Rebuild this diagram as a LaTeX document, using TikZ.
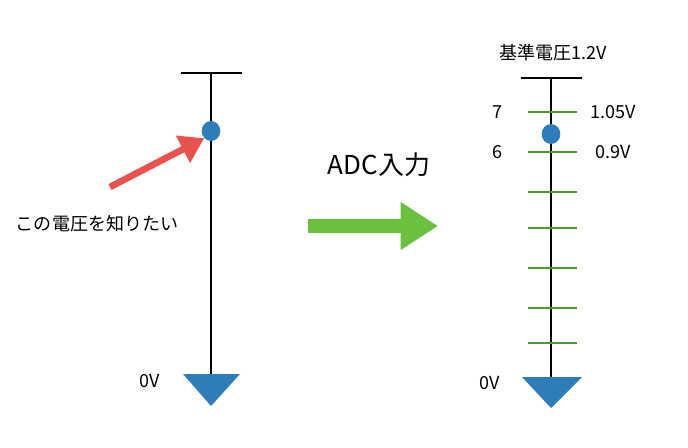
\documentclass[tikz,border=0pt]{standalone}
\usepackage{fontspec}
\setmainfont{Noto Sans CJK JP}
\usetikzlibrary{arrows.meta,shapes.geometric}
\definecolor{dotblue}{HTML}{2F7DB8}
\definecolor{tickgreen}{HTML}{4E9A2A}
\definecolor{redarr}{HTML}{E8524F}
\definecolor{grnarr}{HTML}{6CC040}
\tikzset{
  wire/.style={line width=1.5pt,black},
  tick/.style={line width=2pt,tickgreen},
  dot/.style={ellipse,fill=dotblue,minimum width=14pt,minimum height=15pt,inner sep=0pt,draw=none},
  lbl/.style={font=\fontsize{13.5pt}{15pt}\selectfont,inner sep=0pt},
  gnd/.style={fill=dotblue,draw=none}
}
\begin{document}
\begin{tikzpicture}[x=0.75pt,y=-0.75pt]
\useasboundingbox (0,0) rectangle (688,447);
% left
\coordinate (lt) at (211,73); \coordinate (lb) at (211,376);
\coordinate (lbl) at (181,73); \coordinate (lbr) at (242,73);
\draw[wire] (lt) -- (lb);
\draw[wire] (lbl) -- (lbr);
\fill[gnd] (183,374) -- (240,374) -- (211,406) -- cycle;
\node[dot] (ld) at (211,131) {};
\node[lbl] (l0) at (150,381) {0V};
\coordinate (ra) at (110,187);
\draw[redarr,line width=5pt,-{Triangle[length=18pt,width=22pt]}] (ra) -- (ld.south west);
\node[lbl] (q) at (97,224) {この電圧を知りたい};
% middle
\node[font=\fontsize{19.5pt}{22pt}\selectfont,inner sep=0pt] (adc) at (379,165) {ADC入力};
\coordinate (g1) at (308,226); \coordinate (g2) at (438,226);
\draw[grnarr,line width=10pt,-{Triangle[length=28pt,width=34pt]}] (g1) -- (g2);
% right
\coordinate (rt) at (551,78); \coordinate (rb) at (551,378);
\draw[wire] (rt) -- (rb);
\draw[wire] (521,78) -- (582,78);
\foreach \y in {112,152,192,228,268,308,343} \draw[tick] (528,\y) -- (577,\y);
\fill[gnd] (522,377) -- (582,377) -- (551,408) -- cycle;
\node[dot] (rd) at (551,134) {};
\node[lbl] (ref) at (553,53) {基準電圧1.2V};
\node[lbl] (n7) at (497,112) {7};
\node[lbl] (n6) at (497,152) {6};
\node[lbl] (v7) at (613,112) {1.05V};
\node[lbl] (v6) at (613,152) {0.9V};
\node[lbl] (r0) at (490,383) {0V};
\end{tikzpicture}
\end{document}
